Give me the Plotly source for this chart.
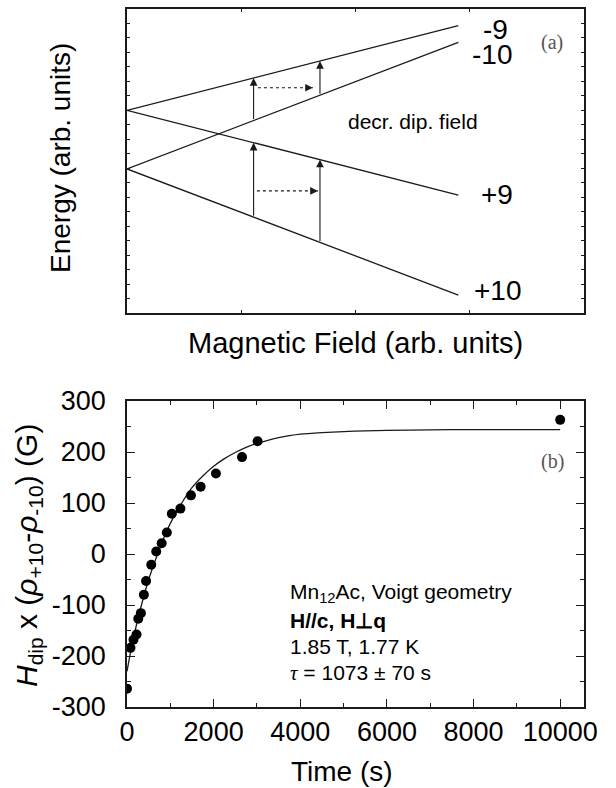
import numpy as np
import plotly.graph_objects as go

# ---------------- Panel (a): energy levels vs field (arb. units) ----------------
level_field = [0.0, 2.9]
level_m9 = [14.0, 19.85]
level_m10 = [9.95, 18.7]
level_p9 = [14.0, 8.15]
level_p10 = [9.95, 1.24]
level_labels = ["-9", "-10", "+9", "+10"]
arrow_fields = [1.108, 1.689]
dashed_upper_x = [1.146, 1.627]
dashed_upper_y = 15.56
dashed_lower_x = [1.137, 1.671]
dashed_lower_y = 8.43

# ---------------- Panel (b): relaxation data ----------------
time_s = [0, 80, 150, 220, 260, 320, 390, 440, 560, 675, 800, 920, 1035,
          1233, 1476, 1700, 2052, 2655, 3015, 10000]
hdip_G = [-264, -184, -168, -158, -127, -116, -80, -53, -21, 5, 21, 42, 79,
          89, 115, 132, 158, 190, 221, 263]
fit_time = [0, 100, 250, 500, 750, 1000, 1250, 1500, 1750, 2000, 2250, 2500,
            2750, 3000, 3250, 3500, 3750, 4000, 4500, 5000, 5500, 6000, 7000,
            8000, 9000, 10000]
fit_hdip = [-230, -185, -128, -50, 10, 60, 98, 130, 153, 172, 187, 199,
            209, 217, 223, 228, 232, 235, 238, 240, 241.5, 242.5, 243.5,
            244, 244, 244]

time_ticks = [0, 2000, 4000, 6000, 8000, 10000]
time_ticktext = ["0", "2000", "4000", "6000", "8000", "10000"]
hdip_ticks = [-300, -200, -100, 0, 100, 200, 300]
hdip_ticktext = ["-300", "-200", "-100", "0", "100", "200", "300"]

SANS = "Liberation Sans, Arial, sans-serif"
SERIF = "Liberation Serif, Times New Roman, serif"
INK = "#1a1a1a"

# plot-area geometry in pixels (for placing free text)
L, R, T, B, W, H = 127, 32, 9, 81, 616, 788
PW, PH = W - L - R, H - T - B


def px(xp):
    return (xp - L) / PW


def py(yp):
    return (H - B - yp) / PH


fig = go.Figure()

# level lines
for yvals in (level_m9, level_m10, level_p9, level_p10):
    fig.add_trace(go.Scatter(x=level_field, y=yvals, mode="lines",
                             line=dict(color=INK, width=1.3),
                             xaxis="x2", yaxis="y2", showlegend=False,
                             hoverinfo="skip"))

# dashed horizontal arrows
for xs, yv in ((dashed_upper_x, dashed_upper_y), (dashed_lower_x, dashed_lower_y)):
    fig.add_trace(go.Scatter(x=xs, y=[yv, yv], mode="lines",
                             line=dict(color=INK, width=1.2, dash="3px,3px"),
                             xaxis="x2", yaxis="y2", showlegend=False,
                             hoverinfo="skip"))

# fit curve
fig.add_trace(go.Scatter(x=fit_time, y=fit_hdip, mode="lines",
                         line=dict(color=INK, width=1.3, shape="spline",
                                   smoothing=0.6),
                         xaxis="x", yaxis="y", showlegend=False))
# data points
fig.add_trace(go.Scatter(x=time_s, y=hdip_G, mode="markers",
                         marker=dict(color="black", size=10),
                         xaxis="x", yaxis="y", showlegend=False))

annotations = []
# vertical transition arrows
for f in arrow_fields:
    pairs = ((np.interp(f, level_field, level_m10), np.interp(f, level_field, level_m9)),
             (np.interp(f, level_field, level_p10), np.interp(f, level_field, level_p9)))
    for tail, head in pairs:
        annotations.append(dict(x=f, y=float(head), ax=f, ay=float(tail),
                                xref="x2", yref="y2", axref="x2", ayref="y2",
                                text="", showarrow=True, arrowhead=2,
                                arrowsize=1.4, arrowwidth=1.1, arrowcolor=INK,
                                standoff=0, startstandoff=0))
# heads of dashed arrows
for xs, yv in ((dashed_upper_x, dashed_upper_y), (dashed_lower_x, dashed_lower_y)):
    annotations.append(dict(x=xs[1], y=yv, ax=xs[1] - 0.06, ay=yv,
                            xref="x2", yref="y2", axref="x2", ayref="y2",
                            text="", showarrow=True, arrowhead=2,
                            arrowsize=1.4, arrowwidth=1.1, arrowcolor=INK,
                            standoff=0))


def txt(s, xp, yp, size, family=SANS, color="black", xanchor="center",
        yanchor="middle", angle=0):
    annotations.append(dict(text=s, x=px(xp), y=py(yp), xref="paper",
                            yref="paper", showarrow=False, xanchor=xanchor,
                            yanchor=yanchor, textangle=angle,
                            font=dict(family=family, size=size, color=color)))


# panel (a) labels
label_pos = [(495, 29), (492, 55), (497, 194), (498, 290)]
for lab, (xp, yp) in zip(level_labels, label_pos):
    txt(lab, xp, yp, 28)
txt("(a)", 552, 42, 20, family=SERIF, color="#555")
txt("decr. dip. field", 413, 121, 21)
txt("Energy (arb. units)", 60, 158, 28, angle=-90)
txt("Magnetic Field (arb. units)", 355, 343, 29)

# panel (b) labels
txt("(b)", 552, 462, 20, family=SERIF, color="#555")
txt("Mn<sub>12</sub>Ac, Voigt geometry", 288, 593, 21, xanchor="left")
txt("<b>H//c, H⊥q</b>", 288, 620, 21, xanchor="left")
txt("1.85 T, 1.77 K", 288, 646, 21, xanchor="left")
txt("<span style='font-family:Liberation Serif'><i>τ</i></span> = 1073 ± 70 s",
    288, 673, 21, xanchor="left")
txt("Time (s)", 342, 771, 28)
txt("<i>H</i><sub>dip</sub> x (<i>ρ</i><sub>+10</sub>-<i>ρ</i><sub>-10</sub>) (G)",
    28, 556, 30, angle=-90)

axis_common = dict(showline=True, linecolor=INK, linewidth=1.5,
                   mirror="allticks", ticks="inside", tickcolor=INK,
                   tickwidth=1.3, showgrid=False, zeroline=False,
                   automargin=False)

fig.update_layout(
    template="none",
    width=W, height=H,
    margin=dict(l=L, r=R, t=T, b=B, pad=0, autoexpand=False),
    paper_bgcolor="white", plot_bgcolor="white",
    showlegend=False,
    annotations=annotations,
    xaxis=dict(domain=[0, 1], range=[0, 10550], tickmode="array",
               tickvals=time_ticks, ticktext=time_ticktext,
               ticklen=8, anchor="y",
               minor=dict(dtick=1000, tick0=0, ticklen=4, ticks="inside",
                          tickcolor=INK, tickwidth=1.3),
               tickfont=dict(family=SANS, size=27, color="black"),
               ticklabelstandoff=0, **axis_common),
    yaxis=dict(domain=[0, (H - B - 401) / PH], range=[-300, 300],
               tickmode="array", tickvals=hdip_ticks, ticktext=hdip_ticktext,
               ticklen=8, anchor="x",
               minor=dict(dtick=50, tick0=0, ticklen=4, ticks="inside",
                          tickcolor=INK, tickwidth=1.3),
               tickfont=dict(family=SANS, size=27, color="black"),
               ticklabelstandoff=14, **axis_common),
    xaxis2=dict(domain=[0, 1], range=[0, 4], tick0=0, dtick=1, ticklen=3,
                showticklabels=False, anchor="y2", **axis_common),
    yaxis2=dict(domain=[(H - B - 313) / PH, 1], range=[0, 21], tick0=0,
                dtick=1, ticklen=3, showticklabels=False, anchor="x2",
                **axis_common),
)

fig.write_html("out.html")
